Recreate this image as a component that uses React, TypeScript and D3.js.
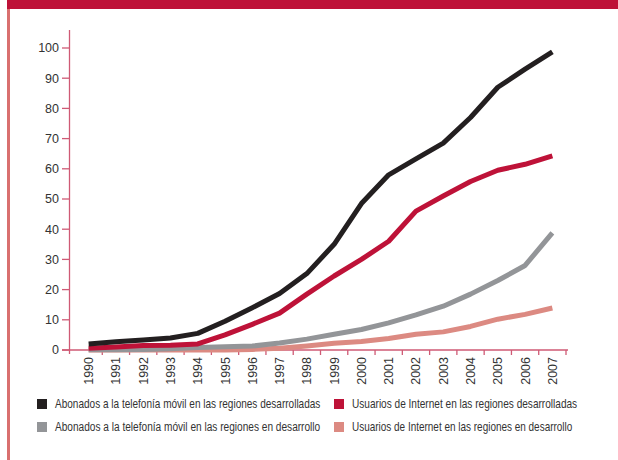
import React, { useEffect, useRef, useState } from "react";
import * as d3 from "d3";

const years = ["1990","1991","1992","1993","1994","1995","1996","1997","1998","1999","2000","2001","2002","2003","2004","2005","2006","2007"];
const mobileDeveloped = [2, 2.7, 3.3, 4, 5.5, 9.5, 14, 18.7, 25.3, 35, 48.5, 58, 63.3, 68.5, 77, 87, 93, 98.7];
const internetDeveloped = [0.6, 1, 1.5, 1.6, 2, 5, 8.5, 12.2, 18.5, 24.5, 30, 36, 46, 51, 55.8, 59.5, 61.5, 64.3];
const mobileDeveloping = [0.1, 0.1, 0.2, 0.4, 0.8, 1.1, 1.3, 2.3, 3.6, 5.2, 6.8, 9, 11.6, 14.5, 18.5, 23, 28, 38.8];
const internetDeveloping = [0, 0, 0, 0, 0, 0, 0.2, 0.6, 1.3, 2.2, 2.8, 3.8, 5.2, 6, 7.8, 10.2, 11.8, 13.9];
const yTicks = [0, 10, 20, 30, 40, 50, 60, 70, 80, 90, 100];

const seriesNames = [
  "Abonados a la telefonía móvil en las regiones desarrolladas",
  "Usuarios de Internet en las regiones desarrolladas",
  "Abonados a la telefonía móvil en las regiones en desarrollo",
  "Usuarios de Internet en las regiones en desarrollo",
];
const seriesColors = ["#231f20", "#be1238", "#939598", "#dc8a82"];

function LegendText({ x, y, text, target }: { x: number; y: number; text: string; target: number }) {
  const ref = useRef<SVGTextElement>(null);
  const [sx, setSx] = useState(0.8);
  useEffect(() => {
    if (ref.current) {
      const w = ref.current.getComputedTextLength();
      if (w > 0) setSx(target / w);
    }
  }, [text, target]);
  return (
    <text
      ref={ref}
      transform={`translate(${x},${y}) scale(${sx},1)`}
      dy="0.35em"
      fontSize={12.5}
      fontFamily="'Liberation Sans', Arial, sans-serif"
      fill="#333"
    >
      {text}
    </text>
  );
}

export default function App() {
  const W = 618, H = 460;
  const x = d3.scaleBand<string>().domain(years).range([75, 566]).padding(0);
  const y = d3.scaleLinear().domain([0, 100]).range([350, 48]);
  const line = d3
    .line<number>()
    .x((_, i) => (x(years[i]) as number) + x.bandwidth() / 2)
    .y((d) => y(d))
    .curve(d3.curveLinear);

  const series = [mobileDeveloped, internetDeveloped, mobileDeveloping, internetDeveloping];
  const drawOrder = [3, 2, 1, 0];
  const axisColor = "#cf5a75";
  const font = "'Liberation Sans', Arial, sans-serif";
  const legendPos = [
    { x: 37, y: 399 },
    { x: 334, y: 399 },
    { x: 37, y: 422 },
    { x: 334, y: 422 },
  ];
  const legendLen = [265, 225, 265, 220];

  return (
    <svg width={W} height={H} style={{ position: "absolute", left: 0, top: 0 }}>
      <rect x={0} y={0} width={W} height={H} fill="#fff" />
      <rect x={7} y={0} width={W - 7} height={9} fill="#be1238" />
      <rect x={7} y={9} width={3} height={H - 9} fill="#d9706f" />

      {/* y axis */}
      <line x1={69.5} x2={69.5} y1={30} y2={354} stroke={axisColor} strokeWidth={1.3} />
      {yTicks.map((t) => (
        <g key={t}>
          <line x1={62} x2={69.5} y1={y(t)} y2={y(t)} stroke={axisColor} strokeWidth={1.3} />
          <text x={59} y={y(t)} dy="0.35em" textAnchor="end" fontSize={12.5} fontFamily={font} fill="#333">
            {t}
          </text>
        </g>
      ))}

      {/* x axis */}
      <line x1={62} x2={568} y1={350} y2={350} stroke={axisColor} strokeWidth={1.3} />
      {years.map((yr) => {
        const bx = x(yr) as number;
        const cx = bx + x.bandwidth() / 2;
        return (
          <g key={yr}>
            <line x1={bx + x.bandwidth()} x2={bx + x.bandwidth()} y1={350} y2={355} stroke={axisColor} strokeWidth={1.3} />
            <text
              transform={`translate(${cx},${357}) rotate(-90)`}
              dy="0.36em"
              textAnchor="end"
              fontSize={12.5}
              fontFamily={font}
              fill="#333"
            >
              {yr}
            </text>
          </g>
        );
      })}

      {drawOrder.map((i) => (
        <path
          key={i}
          d={line(series[i]) || ""}
          fill="none"
          stroke={seriesColors[i]}
          strokeWidth={5}
          strokeLinejoin="round"
        />
      ))}

      {seriesNames.map((name, i) => (
        <g key={name}>
          <rect x={legendPos[i].x} y={legendPos[i].y} width={10} height={10} fill={seriesColors[i]} />
          <LegendText x={legendPos[i].x + 18} y={legendPos[i].y + 5} text={name} target={legendLen[i]} />
        </g>
      ))}
    </svg>
  );
}
